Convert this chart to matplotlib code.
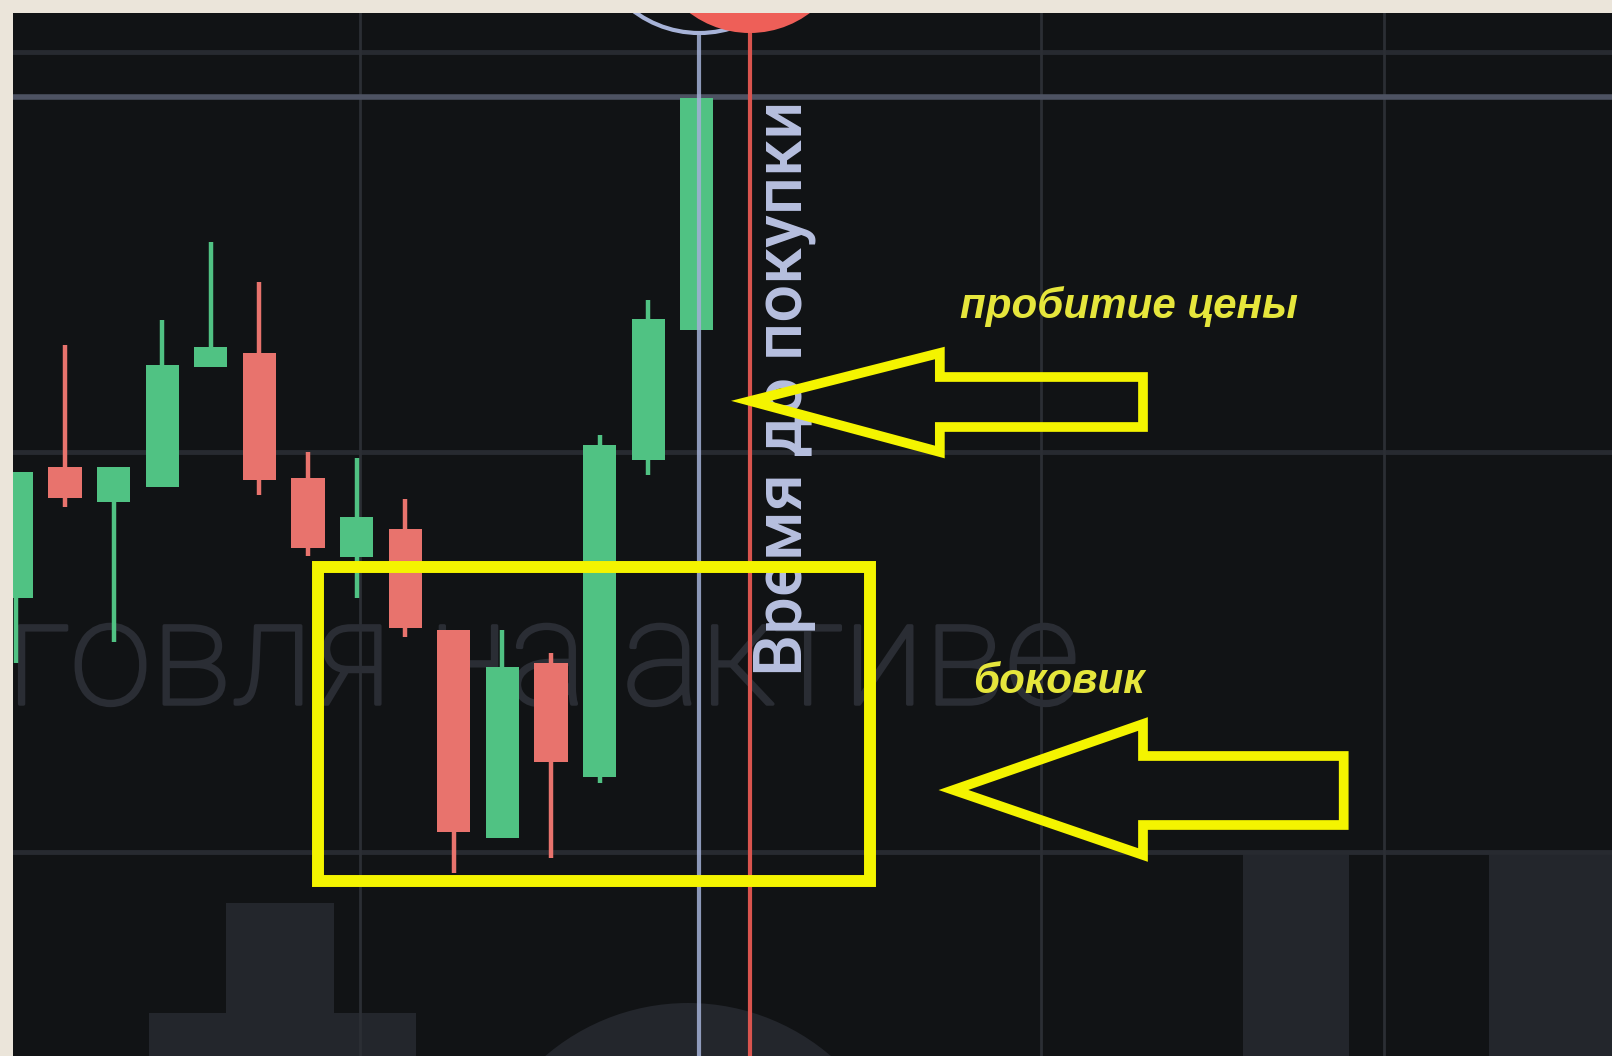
import matplotlib
matplotlib.use('Agg')
import matplotlib.pyplot as plt
import matplotlib.patheffects as pe
from matplotlib.patches import Rectangle, Polygon, Ellipse

# свечи: open / high / low / close (условные единицы цены)
opens  = [45.8, 58.9, 55.4, 56.9, 68.9, 70.3, 57.8, 49.9, 52.7, 42.6, 21.8, 39.3, 27.9, 59.6, 72.6]
highs  = [58.4, 71.1, 58.9, 73.6, 81.4, 77.4, 60.4, 59.8, 55.7, 42.6, 42.6, 40.3, 62.1, 75.6, 95.8]
lows   = [39.3, 54.9, 41.4, 56.9, 68.9, 56.1, 50.0, 45.8, 41.9, 18.3, 21.8, 19.8, 27.3, 58.1, 72.6]
closes = [58.4, 55.8, 58.9, 69.1, 70.9, 57.6, 50.8, 53.9, 42.8, 22.4, 38.9, 29.4, 61.1, 73.7, 95.8]

grid_prices = [20.4, 60.4, 100.4]
grid_times = [7.07, 21.08, 28.14]
current_price = 95.9
entry_time = 14.05     # синяя линия (время покупки)
expiry_time = 15.09    # красная линия (экспирация)

watermark = 'Торговля на активе'
vert_label = 'Время до покупки'
label_break = 'пробитие цены'
label_flat = 'боковик'

green = '#50c283'
red = '#e8736d'
yellow = '#f4f400'

fig = plt.figure(figsize=(16.12, 10.56), dpi=100, facecolor='#ebe5da')
ax = fig.add_axes([13 / 1612, 0, 1599 / 1612, 1043 / 1056])
ax.set_facecolor('#111315')
ax.set_xlim(-0.07, 32.83)
ax.set_ylim(0, 104.3)
ax.set_xticks([])
ax.set_yticks([])
for s in ax.spines.values():
    s.set_visible(False)

# фоновый логотип (серые фигуры)
logo = '#23262c'
ax.add_patch(Rectangle((4.31, 0), 2.22, 15.3, color=logo, lw=0, zorder=0))
ax.add_patch(Rectangle((2.73, 0), 5.49, 4.3, color=logo, lw=0, zorder=0))
ax.add_patch(Ellipse((13.82, -16.6), 9.01, 43.8, color=logo, lw=0, zorder=0))
ax.add_patch(Rectangle((25.24, 0), 2.18, 20.4, color=logo, lw=0, zorder=0))
ax.add_patch(Rectangle((30.3, 0), 2.6, 20.4, color=logo, lw=0, zorder=0))

# сетка
ax.hlines(grid_prices, -1, 34, color='#272a30', lw=3.5, zorder=1)
ax.vlines(grid_times, 0, 105, color='#2b2e34', lw=2, zorder=1)
ax.axhline(current_price, color='#4d5262', lw=4, zorder=1)

# водяной знак
fig.canvas.draw()
rend = fig.canvas.get_renderer()
tmp = ax.text(0, 0, 'говля на активе', fontsize=100, family='Roboto', fontweight='light')
wm_size = 100 * 1072 / tmp.get_window_extent(rend).width
tmp.remove()
wm_col = '#2a2d34'
ax.text(21.88, 35.2, watermark, fontsize=wm_size, family='Roboto', fontweight='light',
        color=wm_col, ha='right', va='baseline', clip_on=True, zorder=1.5,
        path_effects=[pe.withStroke(linewidth=2.5, foreground=wm_col)])

# свечи
x = list(range(len(opens)))
colors = [green if c >= o else red for o, c in zip(opens, closes)]
ax.vlines(x, lows, highs, colors=colors, lw=3.2, zorder=3)
ax.bar(x, [abs(c - o) for o, c in zip(opens, closes)], bottom=[min(o, c) for o, c in zip(opens, closes)],
       width=0.68, color=colors, zorder=4)

# вертикальные линии сделки
ax.vlines(entry_time, 0, 102.3, color='#a3b0d6', lw=3, alpha=0.85, zorder=5)
ax.vlines(expiry_time, 0, 105, color='#d9544e', lw=3, zorder=5)
ax.add_patch(Ellipse((entry_time, 113.2), 4.49, 21.8, fill=False, ec='#a7b3d8', lw=3, zorder=5))
ax.add_patch(Ellipse((expiry_time, 112.3), 4.12, 20, color='#ee5f58', lw=0, zorder=6))

t = ax.text(16.16, 38.0, vert_label, rotation=90, rotation_mode='anchor', ha='left', va='baseline',
            fontsize=40, family='Roboto', fontweight='medium', color='#b7c0e0', zorder=6)
t.set_fontsize(40 * 576 / t.get_window_extent(rend).height)

# жёлтые пометки
ax.add_patch(Rectangle((6.21, 17.5), 11.35, 31.4, fill=False, ec=yellow, lw=8.6, joinstyle='miter', zorder=7))


def arrow_left(tip_x, tip_y, head_x, head_top, head_bot, shaft_top, shaft_bot, tail_x):
    pts = [(tip_x, tip_y), (head_x, head_top), (head_x, shaft_top), (tail_x, shaft_top),
           (tail_x, shaft_bot), (head_x, shaft_bot), (head_x, head_bot)]
    ax.add_patch(Polygon(pts, closed=True, fill=False, ec=yellow, lw=7, joinstyle='miter', zorder=7))


arrow_left(15.1, 65.5, 19.0, 70.3, 60.4, 67.9, 62.9, 23.18)
arrow_left(19.28, 26.6, 23.18, 33.2, 20.1, 30.0, 23.1, 27.31)

fam = ['Liberation Sans Narrow', 'Liberation Sans']
t1 = ax.text(19.42, 73.8, label_break, fontsize=30, family=fam, fontweight='bold', style='italic',
             color='#e6e63c', ha='left', va='baseline', zorder=8)
t1.set_fontsize(30 * 337 / t1.get_window_extent(rend).width)
t2 = ax.text(19.68, 36.3, label_flat, fontsize=t1.get_fontsize(), family=fam, fontweight='bold',
             style='italic', color='#e6e63c', ha='left', va='baseline', zorder=8)

fig.savefig('out.png', dpi=100, facecolor=fig.get_facecolor())
